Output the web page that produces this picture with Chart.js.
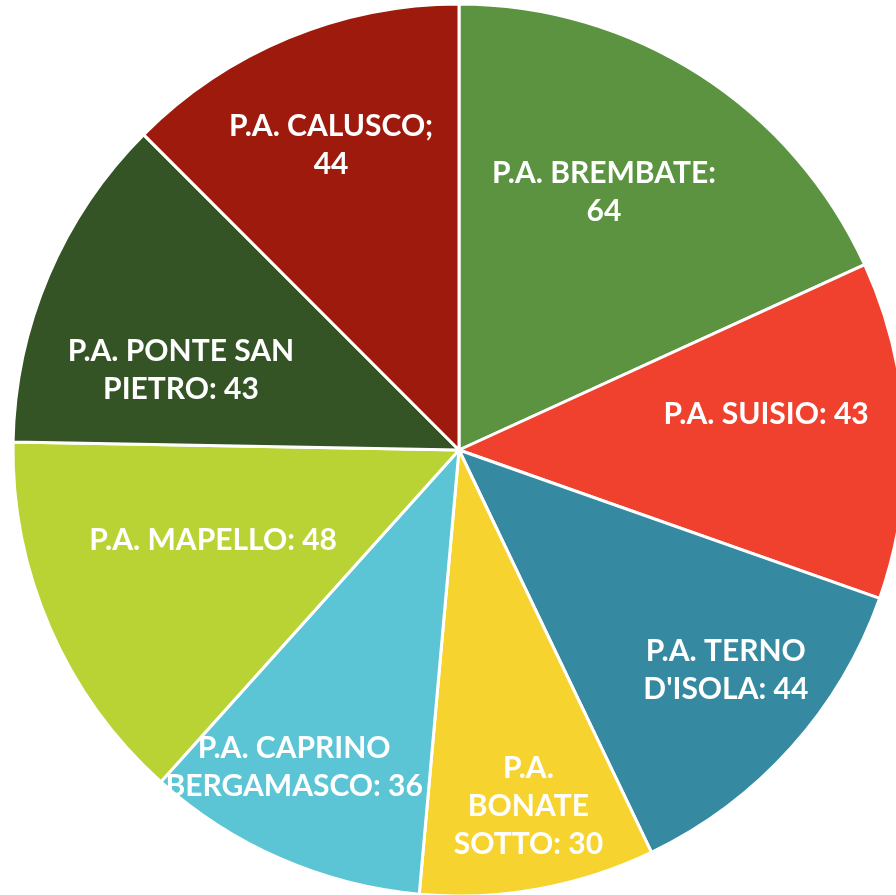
<!DOCTYPE html>
<html>
<head>
<meta charset="utf-8">
<script src="https://cdn.jsdelivr.net/npm/chart.js@4.4.1/dist/chart.umd.min.js"></script>
<style>
  html, body { margin: 0; padding: 0; background: #fff; overflow: hidden; }
  canvas { display: block; }
</style>
</head>
<body>
<canvas id="torta" width="896" height="895"></canvas>
<script>
// dati
const sedi = ['P.A. BREMBATE', 'P.A. SUISIO', "P.A. TERNO D'ISOLA", 'P.A. BONATE SOTTO',
              'P.A. CAPRINO BERGAMASCO', 'P.A. MAPELLO', 'P.A. PONTE SAN PIETRO', 'P.A. CALUSCO'];
const valori = [64, 43, 44, 30, 36, 48, 43, 44];
const colori = ['#5B9341', '#F0412E', '#3589A0', '#F6D32F', '#5CC5D5', '#BAD334', '#355426', '#9D1A0C'];

// come sono spezzate le etichette (il valore va messo al posto di {v})
const righe = [
    ['P.A. BREMBATE:', '{v}'],
    ['P.A. SUISIO: {v}'],
    ['P.A. TERNO', "D'ISOLA: {v}"],
    ['P.A.', 'BONATE', 'SOTTO: {v}'],
    ['P.A. CAPRINO', 'BERGAMASCO: {v}'],
    ['P.A. MAPELLO: {v}'],
    ['P.A. PONTE SAN', 'PIETRO: {v}'],
    ['P.A. CALUSCO;', '{v}']
];
// posizione etichetta: [scarto angolo in gradi, frazione del raggio]
const posEtichette = [[-3.4, 0.668], [-4.1, 0.698], [-2.4, 0.781], [-0.8, 0.819],
                      [3.9, 0.808], [3.4, 0.591], [-7, 0.653], [-0.3, 0.745]];

const etichettePlugin = {
    id: 'etichette',
    afterDatasetsDraw(chart) {
        const ctx = chart.ctx;
        const meta = chart.getDatasetMeta(0);
        ctx.save();
        ctx.fillStyle = '#ffffff';
        ctx.font = 'bold 30px Lato';
        ctx.textAlign = 'center';
        ctx.textBaseline = 'middle';
        const lh = 38;
        meta.data.forEach((arc, i) => {
            const p = arc.getProps(['x', 'y', 'startAngle', 'endAngle'], true);
            const ang = (p.startAngle + p.endAngle) / 2 + posEtichette[i][0] * Math.PI / 180;
            const r = 443 * posEtichette[i][1];
            const cx = p.x + Math.cos(ang) * r;
            const cy = p.y + Math.sin(ang) * r;
            const testo = righe[i].map(t => t.replace('{v}', valori[i]));
            const y0 = cy - (testo.length - 1) * lh / 2;
            testo.forEach((t, k) => ctx.fillText(t, cx, y0 + k * lh));
        });
        ctx.restore();
    }
};

new Chart(document.getElementById('torta').getContext('2d'), {
    type: 'pie',
    data: {
        labels: sedi,
        datasets: [{
            data: valori,
            backgroundColor: colori,
            borderColor: '#ffffff',
            borderWidth: 3,
            clip: false
        }]
    },
    options: {
        responsive: false,
        animation: false,
        radius: 446,
        layout: { padding: { left: 22, top: 5 } },
        plugins: {
            legend: { display: false },
            tooltip: { enabled: false }
        }
    },
    plugins: [etichettePlugin]
});
</script>
</body>
</html>
